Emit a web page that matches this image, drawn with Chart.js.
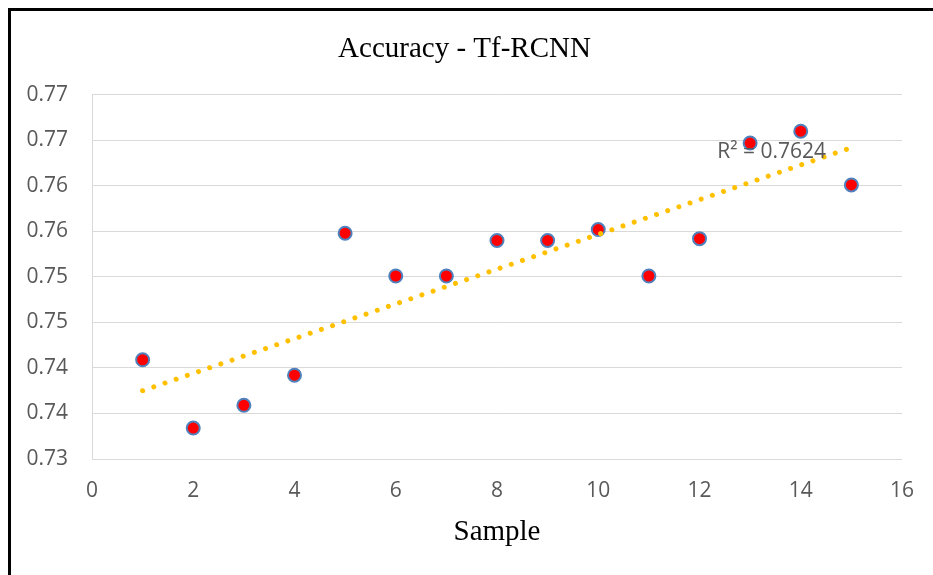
<!DOCTYPE html>
<html>
<head>
<meta charset="utf-8">
<script src="https://cdn.jsdelivr.net/npm/chart.js@4.4.1/dist/chart.umd.min.js"></script>
<style>
  html, body { margin: 0; padding: 0; background: #ffffff; }
  #wrap { width: 933px; height: 575px; }
</style>
</head>
<body>
<div id="wrap"><canvas id="accuracyChart" width="933" height="575"></canvas></div>
<script>
const samples = [1, 2, 3, 4, 5, 6, 7, 8, 9, 10, 11, 12, 13, 14, 15];
const accuracy = [
  0.7409, 0.7334, 0.7359, 0.7392, 0.7548,
  0.7501, 0.7501, 0.7540, 0.7540, 0.7552,
  0.7501, 0.7542, 0.7647, 0.7660, 0.7601
];
const trendX = [1, 15];
const trendY = [0.7375, 0.7642];
const yTickLabels = ["0.73", "0.74", "0.74", "0.75", "0.75", "0.76", "0.76", "0.77", "0.77"];
const rSquaredText = "R\u00b2 = 0.7624";

const tickColor = "#595959";
const gridColor = "#d9d9d9";

const frame = {
  id: "frame",
  beforeDraw(chart) {
    const ctx = chart.ctx;
    ctx.save();
    ctx.fillStyle = "#ffffff";
    ctx.fillRect(0, 0, chart.width, chart.height);
    ctx.fillStyle = "#000000";
    ctx.fillRect(8, 8, chart.width - 8, 3);
    ctx.fillRect(8, 8, 3, chart.height - 8);
    ctx.restore();
  }
};

const rSquaredLabel = {
  id: "rSquaredLabel",
  afterDatasetsDraw(chart) {
    const ctx = chart.ctx;
    const x = chart.scales.x.getPixelForValue(12.35);
    const y = chart.scales.y.getPixelForValue(0.7637);
    ctx.save();
    ctx.font = "21px 'Open Sans'";
    ctx.fillStyle = tickColor;
    ctx.textAlign = "left";
    ctx.textBaseline = "middle";
    ctx.fillText(rSquaredText, x, y);
    ctx.restore();
  }
};

new Chart(document.getElementById("accuracyChart"), {
  type: "scatter",
  data: {
    datasets: [
      {
        label: "Accuracy",
        data: samples.map((s, i) => ({ x: s, y: accuracy[i] })),
        backgroundColor: "#ff0000",
        borderColor: "#4f81bd",
        borderWidth: 2,
        pointRadius: 6.5,
        order: 2
      },
      {
        label: "Trend",
        type: "line",
        data: trendX.map((s, i) => ({ x: s, y: trendY[i] })),
        borderColor: "#ffc000",
        borderWidth: 5,
        borderCapStyle: "round",
        borderDash: [0.01, 11.8],
        pointRadius: 0,
        fill: false,
        order: 1
      }
    ]
  },
  options: {
    responsive: false,
    animation: false,
    layout: {
      padding: { left: 27, right: 31, top: 0, bottom: 25 }
    },
    plugins: {
      legend: { display: false },
      tooltip: { enabled: false },
      title: {
        display: true,
        text: "Accuracy - Tf-RCNN",
        color: "#000000",
        font: { family: "'Liberation Serif', 'Times New Roman', serif", size: 29, weight: "normal" },
        padding: { top: 32, bottom: 28 }
      }
    },
    scales: {
      x: {
        type: "linear",
        min: 0,
        max: 16,
        afterFit: scale => { scale.height = 91; },
        ticks: {
          stepSize: 2,
          color: tickColor,
          padding: 19,
          font: { family: "'Open Sans'", size: 21 }
        },
        grid: { display: false, drawTicks: false },
        border: { display: true, color: gridColor, width: 1 },
        title: {
          display: true,
          text: "Sample",
          color: "#000000",
          font: { family: "'Liberation Serif', 'Times New Roman', serif", size: 29 },
          padding: { top: 10, bottom: 0 }
        }
      },
      y: {
        min: 0.73,
        max: 0.77,
        afterFit: scale => { scale.width = 65; },
        ticks: {
          stepSize: 0.005,
          color: tickColor,
          padding: 24,
          font: { family: "'Open Sans'", size: 21 },
          callback: (value, index) => yTickLabels[index]
        },
        grid: { color: gridColor, lineWidth: 1, drawTicks: false },
        border: { display: true, color: gridColor, width: 1 }
      }
    }
  },
  plugins: [frame, rSquaredLabel]
});
</script>
</body>
</html>
